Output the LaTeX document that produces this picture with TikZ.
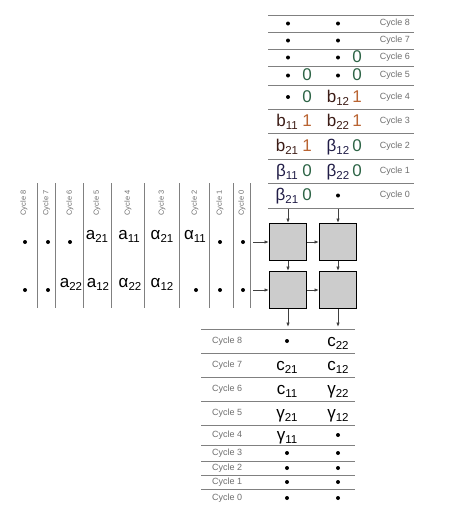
\documentclass[tikz,border=0pt]{standalone}
\usepackage{fontspec}
\setmainfont{Liberation Sans}
\usetikzlibrary{arrows.meta}

\definecolor{zerocol}{RGB}{45,100,70}
\definecolor{onecol}{RGB}{185,100,50}
\definecolor{bcol}{RGB}{60,28,22}
\definecolor{betacol}{RGB}{32,28,70}
\definecolor{rulecol}{RGB}{128,128,128}
\definecolor{labcol}{RGB}{110,110,110}
\definecolor{pefill}{RGB}{204,204,204}

\newcommand{\sub}[1]{\raisebox{-3pt}{\fontsize{11.5}{12}\selectfont#1}}

\begin{document}
\begin{tikzpicture}[x=1pt,y=-1pt]
\tikzset{
  cyc/.style={font=\fontsize{9}{10}\selectfont, text=labcol, inner sep=0pt},
  vcyc/.style={cyc, font=\fontsize{7.5}{8}\selectfont, rotate=90},
  val/.style={font=\fontsize{17}{18}\selectfont, inner sep=0pt, anchor=base},
  tagz/.style={val, text=zerocol},
  tago/.style={val, text=onecol},
  dot/.style={circle, fill=black, inner sep=0pt, minimum size=4pt},
  pe/.style={draw, fill=pefill, line width=1pt, minimum size=37pt, inner sep=0pt},
  rule/.style={draw=rulecol, line width=0.9pt},
  flow/.style={-{Latex[length=4.5pt,width=3.5pt]}, line width=0.9pt, draw=black!75}
}
\useasboundingbox (0,0) rectangle (455,515);

% top table: b inputs
\foreach \y in {15,32,49,66,85,109,133,159,183,208} \draw[rule] (268,\y) -- (414,\y);
\foreach \c/\y in {8/23.5,7/40.5,6/57.5,5/75.5,4/97,3/121,2/146,1/171,0/195.5}
  \node[cyc] (tc\c) at (395,\y) {Cycle \c};
\node[dot] (t8a) at (288,23.5) {};
\node[dot] (t8b) at (338,23.5) {};
\node[dot] (t7a) at (288,40.5) {};
\node[dot] (t7b) at (338,40.5) {};
\node[dot] (t6a) at (288,57.5) {};
\node[dot] (t6b) at (338,57.5) {};
\node[tagz] (t6bt) at (357,62.5) {0};
\node[dot] (t5a) at (288,75.5) {};
\node[tagz] (t5at) at (307,80.5) {0};
\node[dot] (t5b) at (338,75.5) {};
\node[tagz] (t5bt) at (357,80.5) {0};
\node[dot] (t4a) at (288,97) {};
\node[tagz] (t4at) at (307,102) {0};
\node[val, text=bcol] (b12) at (338,102) {b\sub{12}};
\node[tago] (b12t) at (357,102) {1};
\node[val, text=bcol] (b11) at (287,126) {b\sub{11}};
\node[tago] (b11t) at (307,126) {1};
\node[val, text=bcol] (b22) at (338,126) {b\sub{22}};
\node[tago] (b22t) at (357,126) {1};
\node[val, text=bcol] (b21) at (287,151) {b\sub{21}};
\node[tago] (b21t) at (307,151) {1};
\node[val, text=betacol] (be12) at (338,151) {β\sub{12}};
\node[tagz] (be12t) at (357,151) {0};
\node[val, text=betacol] (be11) at (287,176) {β\sub{11}};
\node[tagz] (be11t) at (307,176) {0};
\node[val, text=betacol] (be22) at (338,176) {β\sub{22}};
\node[tagz] (be22t) at (357,176) {0};
\node[val, text=betacol] (be21) at (287,200.5) {β\sub{21}};
\node[tagz] (be21t) at (307,200.5) {0};
\node[dot] (t0b) at (338,195.5) {};

% left table: a inputs
\foreach \x in {37,55.5,83,111,144,179,209.5,233,250.5} \draw[rule] (\x,183) -- (\x,308);
\foreach \c/\x in {8/24,7/46.5,6/70,5/97,4/128,3/162,2/195,1/220,0/242}
  \node[vcyc] (lc\c) at (\x,203) {Cycle \c};
\node[dot] (l1c8) at (25,242) {};
\node[dot] (l1c7) at (48,242) {};
\node[dot] (l1c6) at (70,242) {};
\node[val] (a21) at (97,239) {a\sub{21}};
\node[val] (a11) at (129,239) {a\sub{11}};
\node[val] (al21) at (162,239) {α\sub{21}};
\node[val] (al11) at (195,239) {α\sub{11}};
\node[dot] (l1c1) at (220,242) {};
\node[dot] (l1c0) at (243,242) {};
\node[dot] (l2c8) at (25,290) {};
\node[dot] (l2c7) at (48,290) {};
\node[val] (a22) at (71,287) {a\sub{22}};
\node[val] (a12) at (98,287) {a\sub{12}};
\node[val] (al22) at (130,287) {α\sub{22}};
\node[val] (al12) at (162,287) {α\sub{12}};
\node[dot] (l2c2) at (196,290) {};
\node[dot] (l2c1) at (220,290) {};
\node[dot] (l2c0) at (243,290) {};

% processing elements
\node[pe] (pe11) at (288,242) {};
\node[pe] (pe12) at (338,242) {};
\node[pe] (pe21) at (288,290) {};
\node[pe] (pe22) at (338,290) {};
\coordinate (bin1) at (288,209);
\coordinate (bin2) at (338,209);
\coordinate (ain1) at (253,242);
\coordinate (ain2) at (253,290);
\coordinate (cout1) at (288,327);
\coordinate (cout2) at (338,327);
\draw[flow] (bin1) -- (pe11);
\draw[flow] (bin2) -- (pe12);
\draw[flow] (ain1) -- (pe11);
\draw[flow] (ain2) -- (pe21);
\draw[flow] (pe11) -- (pe12);
\draw[flow] (pe21) -- (pe22);
\draw[flow] (pe11) -- (pe21);
\draw[flow] (pe12) -- (pe22);
\draw[flow] (pe21) -- (cout1);
\draw[flow] (pe22) -- (cout2);

% bottom table: c outputs
\foreach \y in {329,353,377,401,425,445,461,475,489} \draw[rule] (201,\y) -- (355,\y);
\foreach \c/\y in {8/341,7/365,6/389,5/413,4/435,3/453,2/468,1/482,0/498}
  \node[cyc, anchor=west] (bc\c) at (212,\y) {Cycle \c};
\node[dot] (b8a) at (287,341) {};
\node[val] (c22) at (338,346) {c\sub{22}};
\node[val] (c21) at (287,370) {c\sub{21}};
\node[val] (c12) at (338,370) {c\sub{12}};
\node[val] (c11) at (287,394) {c\sub{11}};
\node[val] (ga22) at (338,394) {γ\sub{22}};
\node[val] (ga21) at (287,418) {γ\sub{21}};
\node[val] (ga12) at (338,418) {γ\sub{12}};
\node[val] (ga11) at (287,440) {γ\sub{11}};
\node[dot] (b4b) at (338,435) {};
\foreach \c/\y in {3/453,2/468,1/482,0/498} {
  \node[dot] (b\c a) at (287,\y) {};
  \node[dot] (b\c b) at (338,\y) {};
}
\end{tikzpicture}
\end{document}
